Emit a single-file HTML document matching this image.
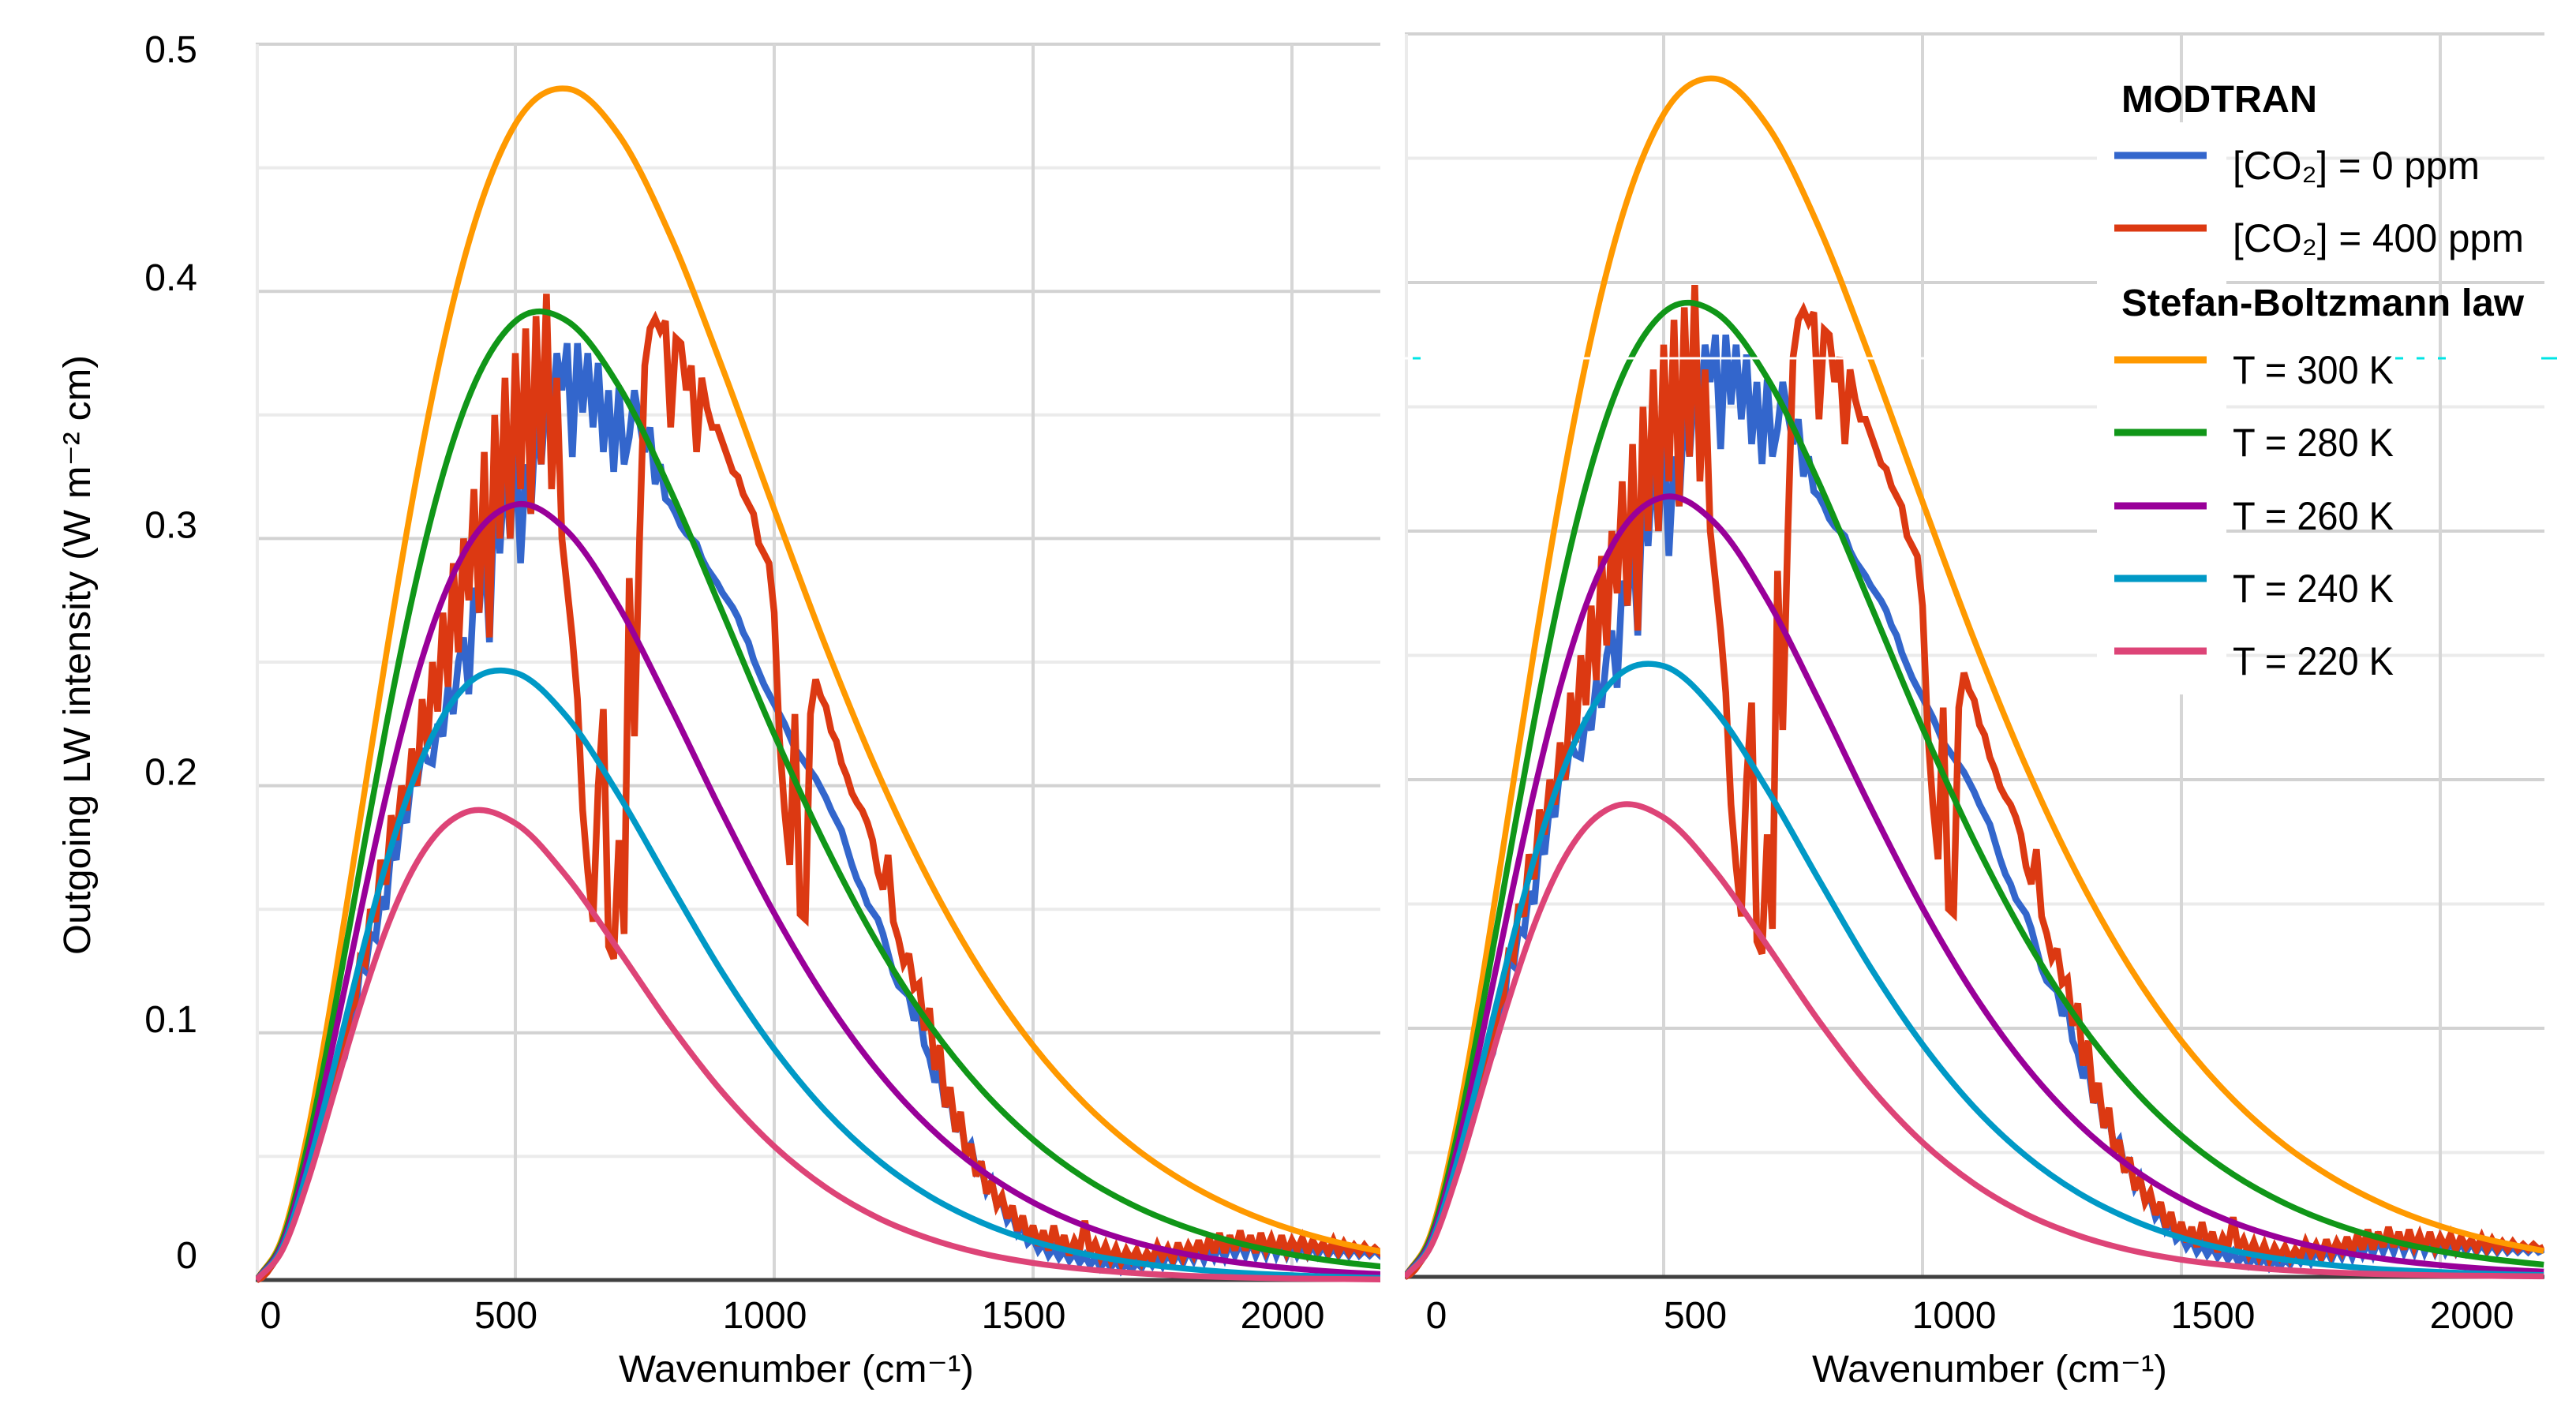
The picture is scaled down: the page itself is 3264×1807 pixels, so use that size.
<!DOCTYPE html>
<html>
<head>
<meta charset="utf-8">
<style>
html,body{margin:0;padding:0;background:#fff;}
svg{display:block;}
text{font-family:"Liberation Sans",sans-serif;fill:#000;}
</style>
</head>
<body>
<svg id="chart" width="3264" height="1807" viewBox="0 0 3264 1807" xmlns="http://www.w3.org/2000/svg">
<rect x="0" y="0" width="3264" height="1807" fill="#fff"/>
</svg>
<script>
// ---------- DATA ----------
const yTicks = [0, 0.1, 0.2, 0.3, 0.4, 0.5];
const yTickLabels = ["0", "0.1", "0.2", "0.3", "0.4", "0.5"];
const xTicks = [0, 500, 1000, 1500, 2000];
const xTickLabels = ["0", "500", "1000", "1500", "2000"];

// Stefan-Boltzmann (Planck) curves, sampled wavenumbers (cm^-1)
const planckNu = [0,50,100,150,200,250,300,350,400,500,600,700,800,900,1000,1100,1200,1300,1400,1500,1600,1700,1800,1900,2000,2100,2200];
const t300 = [0,.01726,.0608,.1199,.1860,.2523,.3142,.3681,.4122,.4677,.4820,.4632,.4222,.3690,.3118,.2561,.2053,.1614,.1247,.0949,.0713,.0529,.0389,.0283,.0204,.01465,.0104];
const t280 = [0,.01597,.0557,.1087,.1668,.2237,.2751,.3183,.3517,.3879,.3880,.3616,.3193,.2702,.2208,.1754,.1360,.1033,.0772,.0568,.0412,.02955,.0210,.01476,.0103,.00713,.0049];
const t260 = [0,.01467,.0506,.0976,.1479,.1956,.2372,.2702,.2939,.3137,.3030,.2724,.2317,.1888,.1484,.1134,.0846,.0618,.0444,.0314,.0219,.0151,.0103,.00697,.0047,.00311,.0021];
const t240 = [0,.01338,.0456,.0866,.1292,.1682,.2005,.2243,.2395,.2457,.2277,.1961,.1597,.1243,.0935,.0682,.0486,.0339,.0233,.0157,.0105,.00689,.0045,.0029,.0019,.00118,.0007];
const t220 = [0,.01209,.0405,.0758,.1109,.1416,.1653,.1810,.1889,.1848,.1630,.1333,.1029,.0760,.0541,.0374,.0252,.0167,.0108,.0069,.0044,.00273,.0017,.00103,.0006,.00038,.0002];

// MODTRAN spectra, every 10 cm^-1 from 0 to 2200
const modtranStart = 0;
const modtranStep = 10;
const co2Zero = [
0,.001,.003,.006,.009,.013,.018,.023,.029,.035,
.042,.048,.055,.062,.07,.077,.085,.09,.1,.105,
.127,.125,.14,.138,.155,.15,.175,.17,.19,.185,
.205,.2,.215,.21,.209,.225,.22,.24,.229,.25,
.26,.237,.28,.27,.3,.258,.32,.294,.33,.3,
.34,.29,.33,.31,.35,.33,.36,.345,.375,.36,
.379,.333,.379,.351,.375,.345,.371,.335,.36,.327,
.361,.33,.341,.36,.347,.335,.345,.322,.33,.316,
.314,.31,.305,.302,.3,.298,.292,.288,.285,.282,
.278,.275,.272,.268,.262,.258,.251,.246,.241,.237,
.233,.229,.225,.22,.215,.212,.209,.206,.203,.199,
.195,.19,.186,.182,.175,.168,.162,.158,.152,.149,
.146,.14,.132,.124,.119,.117,.115,.105,.11,.095,
.09,.08,.085,.07,.075,.06,.065,.052,.055,.044,
.046,.036,.04,.03,.032,.024,.027,.019,.022,.015,
.017,.012,.015,.01,.013,.009,.012,.008,.011,.007,
.01,.006,.009,.005,.008,.005,.008,.004,.007,.004,
.007,.005,.009,.006,.01,.006,.011,.007,.011,.007,
.012,.008,.013,.008,.014,.009,.014,.009,.015,.01,
.015,.01,.016,.01,.015,.01,.016,.01,.015,.01,
.015,.01,.014,.01,.014,.01,.014,.01,.013,.01,
.013,.01,.013,.01,.012,.01,.012,.01,.012,.01,
.011];
const co2Four = [
0,.001,.003,.006,.009,.013,.018,.023,.029,.036,
.044,.05,.058,.064,.074,.08,.09,.094,.108,.112,
.13,.128,.15,.145,.17,.16,.188,.178,.2,.19,
.215,.2,.235,.215,.25,.23,.27,.24,.29,.254,
.3,.275,.32,.27,.335,.26,.35,.3,.365,.3,
.375,.32,.385,.31,.39,.33,.399,.32,.365,.3,
.28,.26,.235,.19,.165,.145,.2,.231,.135,.13,
.178,.14,.284,.22,.3,.37,.385,.389,.384,.388,
.345,.381,.379,.36,.37,.335,.365,.353,.345,.345,
.339,.333,.327,.325,.318,.314,.31,.298,.294,.29,
.27,.219,.19,.168,.229,.148,.146,.229,.243,.236,
.232,.222,.218,.209,.204,.197,.193,.19,.185,.178,
.165,.158,.172,.145,.138,.128,.132,.118,.12,.101,
.11,.085,.095,.07,.078,.06,.068,.05,.055,.042,
.048,.035,.04,.03,.034,.025,.03,.02,.026,.016,
.022,.014,.02,.012,.022,.013,.018,.01,.016,.012,
.024,.011,.015,.009,.014,.008,.013,.007,.012,.008,
.012,.007,.011,.008,.014,.009,.013,.008,.015,.009,
.014,.01,.016,.01,.017,.011,.019,.011,.018,.012,
.02,.012,.018,.011,.019,.012,.017,.011,.018,.011,
.016,.012,.017,.011,.016,.012,.015,.011,.016,.011,
.015,.011,.014,.011,.014,.011,.013,.011,.013,.011,
.012];

const legendLabels = ["[CO₂] = 0 ppm","[CO₂] = 400 ppm","T = 300 K","T = 280 K","T = 260 K","T = 240 K","T = 220 K"];

// ---------- RENDER ----------
const NS = "http://www.w3.org/2000/svg";
const svg = document.getElementById("chart");
function mk(tag, attrs, parent) {
  const e = document.createElementNS(NS, tag);
  for (const k in attrs) e.setAttribute(k, attrs[k]);
  (parent || svg).appendChild(e);
  return e;
}

const panels = [
  { id: "left", left: 324, right: 1749, x0: 325, pxPer500: 328, base: 1622, pxPerTenth: 313.2, yLabels: true, xLabelOff: -12, xTitleX: 1009 },
  { id: "right", left: 1780, right: 3224, x0: 1780, pxPer500: 328, base: 1618, pxPerTenth: 315, yLabels: false, xLabelOff: 40, xTitleX: 2521 }
];

const colors = { blue: "#3366cc", red: "#dc3912", t300: "#ff9900", t280: "#109618", t260: "#990099", t240: "#0099c6", t220: "#dd4477" };

// slope at point i using weighted three-point (quadratic) formula for uneven spacing
function slopeAt(pts, i) {
  const n = pts.length;
  if (i === 0) return (pts[1][1] - pts[0][1]) / (pts[1][0] - pts[0][0]);
  if (i === n - 1) return (pts[n - 1][1] - pts[n - 2][1]) / (pts[n - 1][0] - pts[n - 2][0]);
  const h0 = pts[i][0] - pts[i - 1][0], h1 = pts[i + 1][0] - pts[i][0];
  const s0 = (pts[i][1] - pts[i - 1][1]) / h0, s1 = (pts[i + 1][1] - pts[i][1]) / h1;
  return (h1 * s0 + h0 * s1) / (h0 + h1);
}
function smoothPath(pts) {
  let d = "M" + pts[0][0].toFixed(1) + "," + pts[0][1].toFixed(1);
  for (let i = 0; i < pts.length - 1; i++) {
    const p1 = pts[i], p2 = pts[i + 1];
    const h = p2[0] - p1[0];
    const m1 = slopeAt(pts, i), m2 = slopeAt(pts, i + 1);
    const c1x = p1[0] + h / 3, c1y = p1[1] + m1 * h / 3;
    const c2x = p2[0] - h / 3, c2y = p2[1] - m2 * h / 3;
    d += " C" + c1x.toFixed(1) + "," + c1y.toFixed(1) + " " + c2x.toFixed(1) + "," + c2y.toFixed(1) + " " + p2[0].toFixed(1) + "," + p2[1].toFixed(1);
  }
  return d;
}

const defs = mk("defs", {});

panels.forEach(p => {
  const xs = v => p.x0 + v / 500 * p.pxPer500;
  const ys = v => p.base - v / 0.1 * p.pxPerTenth;
  const g = mk("g", {});
  
  

  const clip = mk("clipPath", { id: "clip-" + p.id }, defs);
  mk("rect", { x: p.left, y: 0, width: p.right - p.left, height: p.base + 6 }, clip);

  const grid = mk("g", {}, g);
  
  
  for (let k = 1; k <= 10; k++) {
    const v = k * 0.05;
    const major = k % 2 === 0;
    const l = mk("line", { x1: p.left, x2: p.right, y1: ys(v), y2: ys(v), stroke: major ? "#d2d2d2" : "#ebebeb", "stroke-width": 4 }, grid);
    
    
  }
  const le = mk("line", { x1: p.left + 2, x2: p.left + 2, y1: ys(0.5), y2: p.base, stroke: "#ebebeb", "stroke-width": 4 }, grid);
  
  
  xTicks.forEach(t => {
    if (t === 0) return;
    const l = mk("line", { x1: xs(t), x2: xs(t), y1: ys(0.5), y2: p.base, stroke: "#d6d6d6", "stroke-width": 4 }, grid);
    
    
  });

  if (p.id === "right") {
    const m = mk("rect", { x: 2657, y: 155, width: 164, height: 725, fill: "#fff" }, g);
    
    
  }

  const bl = mk("line", { x1: p.left, x2: p.right, y1: p.base, y2: p.base, stroke: "#404040", "stroke-width": 5 }, g);
  
  

  const series = mk("g", { "clip-path": "url(#clip-" + p.id + ")" }, g);
  
  

  [[co2Zero, colors.blue, "modtran-0ppm-line"], [co2Four, colors.red, "modtran-400ppm-line"]].forEach(s => {
    let d = "";
    s[0].forEach((v, i) => {
      const x = xs(modtranStart + i * modtranStep), y = ys(v);
      d += (i ? "L" : "M") + x.toFixed(1) + "," + y.toFixed(1);
    });
    const path = mk("path", { d: d, fill: "none", stroke: s[1], "stroke-width": 8.5, "stroke-linejoin": "miter", "stroke-miterlimit": 3 }, series);
    
    
  });

  [[t300, colors.t300, "planck-300k-curve"], [t280, colors.t280, "planck-280k-curve"], [t260, colors.t260, "planck-260k-curve"], [t240, colors.t240, "planck-240k-curve"], [t220, colors.t220, "planck-220k-curve"]].forEach(s => {
    const pts = planckNu.map((n, i) => [xs(n), ys(s[0][i])]);
    const path = mk("path", { d: smoothPath(pts), fill: "none", stroke: s[1], "stroke-width": 7.5 }, series);
    
    
  });

  if (p.yLabels) {
    yTicks.forEach((t, i) => {
      const y = i === yTicks.length - 1 ? ys(t) + 6 : ys(t) - 18 - (i === 0 ? 14 : 0);
      const tx = mk("text", { x: 250, y: y + 17, "font-size": 48, "text-anchor": "end" }, g);
      tx.textContent = yTickLabels[i];
      
      
    });
  }
  xTicks.forEach((t, i) => {
    let x = xs(t) + p.xLabelOff;
    if (t === 0) x = Math.max(x, p.left + 19);
    const tx = mk("text", { x: x, y: 1683, "font-size": 48, "text-anchor": "middle" }, g);
    tx.textContent = xTickLabels[i];
    
    
  });
  const xt = mk("text", { x: p.xTitleX, y: 1751, "font-size": 48, "text-anchor": "middle", textLength: 450, lengthAdjust: "spacingAndGlyphs" }, g);
  xt.textContent = "Wavenumber (cm⁻¹)";
  
  
});

const art = mk("line", { x1: 1780, x2: 3130, y1: 454, y2: 454, stroke: "#fff", "stroke-width": 3 });


[[1790, 1800], [3035, 3045], [3062, 3072], [3089, 3099], [3220, 3240]].forEach(s => {
  const d = mk("line", { x1: s[0], x2: s[1], y1: 454, y2: 454, stroke: "#00e5e5", "stroke-width": 3 });
  
  
});

const yt = mk("text", { x: 0, y: 0, "font-size": 48, "text-anchor": "middle", transform: "translate(114,830) rotate(-90)", textLength: 760, lengthAdjust: "spacingAndGlyphs" });
yt.textContent = "Outgoing LW intensity (W m⁻² cm)";



const lg = mk("g", {});


const h1 = mk("text", { x: 2688, y: 142, "font-size": 48, "font-weight": "bold", textLength: 248, lengthAdjust: "spacingAndGlyphs" }, lg);
h1.textContent = "MODTRAN";


const h2 = mk("text", { x: 2688, y: 400, "font-size": 48, "font-weight": "bold", textLength: 510, lengthAdjust: "spacingAndGlyphs" }, lg);
h2.textContent = "Stefan-Boltzmann law";


const legendColors = [colors.blue, colors.red, colors.t300, colors.t280, colors.t260, colors.t240, colors.t220];
const legendY = [197, 289, 456, 548, 641, 733, 825];
const legendW = [313, 369, 204, 204, 204, 204, 204];
legendLabels.forEach((lab, i) => {
  const e = mk("g", {}, lg);
  
  
  const ln = mk("line", { x1: 2679, x2: 2796, y1: legendY[i], y2: legendY[i], stroke: legendColors[i], "stroke-width": 9 }, e);
  
  
  const t = mk("text", { x: 2829, y: legendY[i] + 30, "font-size": 50, textLength: legendW[i], lengthAdjust: "spacingAndGlyphs" }, e);
  t.textContent = lab;
  
  
});
</script>
</body>
</html>
